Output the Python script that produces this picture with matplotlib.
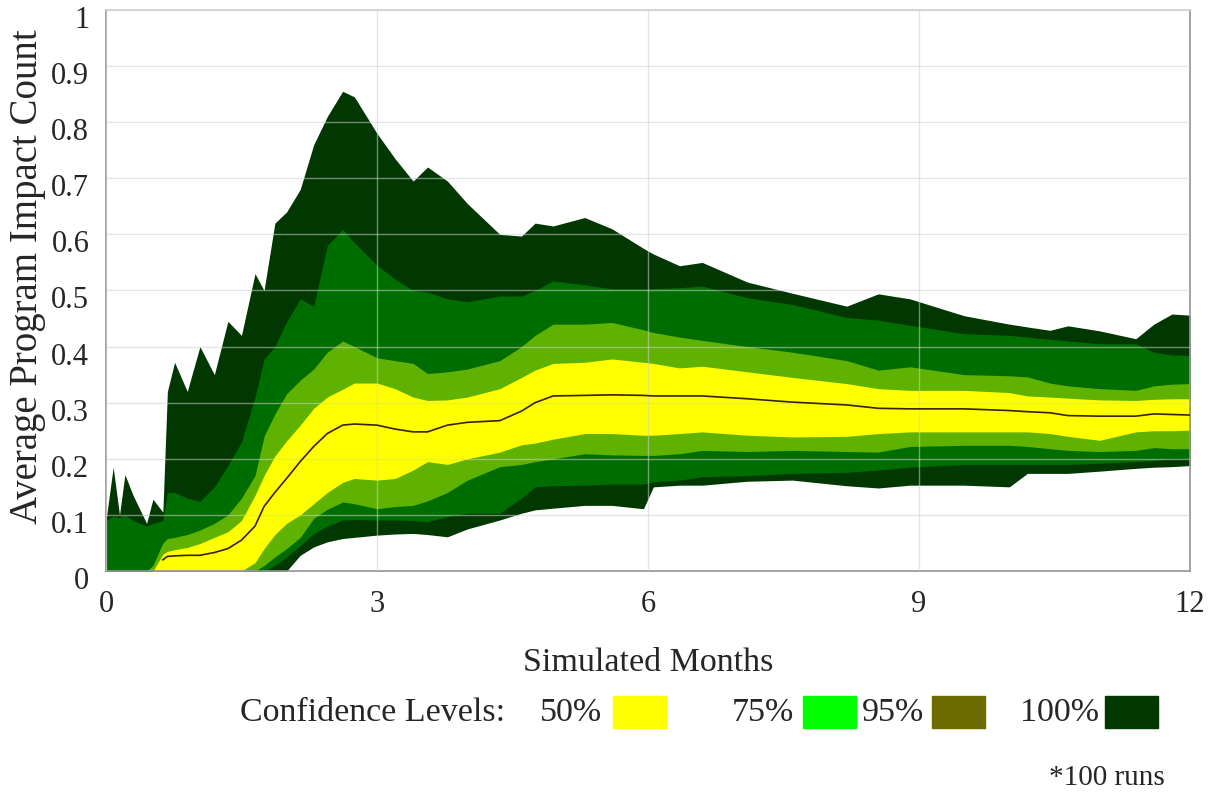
import numpy as np
import matplotlib
matplotlib.use("Agg")
import matplotlib.pyplot as plt
import matplotlib.transforms as mtransforms
from matplotlib.patches import Rectangle

plt.rcParams['font.family'] = ['Liberation Serif', 'DejaVu Serif']

# simulated months (x) and the confidence band edges
months = [0.0, 0.08, 0.15, 0.21, 0.3, 0.45, 0.52, 0.63, 0.68, 0.76, 0.9, 1.04, 1.2, 1.35,
          1.5, 1.65, 1.75, 1.87, 2.0, 2.15, 2.3, 2.45, 2.62, 2.75, 3.0, 3.2, 3.4, 3.56,
          3.78, 4.0, 4.36, 4.6, 4.75, 4.95, 5.3, 5.6, 5.95, 6.06, 6.35, 6.6, 7.1, 7.6,
          8.2, 8.55, 8.9, 9.5, 10.0, 10.2, 10.45, 10.65, 11.0, 11.4, 11.6, 11.8, 12.0]

p100_hi = [0.09, 0.185, 0.1, 0.172, 0.135, 0.085, 0.128, 0.105, 0.32, 0.372, 0.32, 0.40, 0.35, 0.445,
           0.42, 0.53, 0.50, 0.62, 0.64, 0.68, 0.76, 0.81, 0.855, 0.845, 0.78, 0.735, 0.695, 0.72,
           0.695, 0.655, 0.60, 0.597, 0.62, 0.615, 0.63, 0.61, 0.575, 0.565, 0.544, 0.55, 0.515, 0.495,
           0.472, 0.494, 0.485, 0.455, 0.44, 0.435, 0.429, 0.437, 0.428, 0.414, 0.44, 0.458, 0.456]
p95_hi = [0.09, 0.098, 0.095, 0.1, 0.09, 0.08, 0.085, 0.09, 0.14, 0.14, 0.13, 0.124, 0.15, 0.188,
          0.23, 0.31, 0.378, 0.40, 0.444, 0.485, 0.472, 0.58, 0.609, 0.585, 0.545, 0.52, 0.50, 0.497,
          0.485, 0.48, 0.49, 0.49, 0.50, 0.517, 0.51, 0.503, 0.503, 0.503, 0.505, 0.508, 0.487, 0.475,
          0.452, 0.447, 0.438, 0.423, 0.42, 0.417, 0.413, 0.41, 0.405, 0.405, 0.39, 0.385, 0.384]
p75_hi = [0, 0, 0, 0, 0, 0, 0.01, 0.05, 0.058, 0.06, 0.065, 0.073, 0.085, 0.10,
          0.13, 0.17, 0.24, 0.28, 0.316, 0.34, 0.36, 0.39, 0.41, 0.40, 0.38, 0.375, 0.37, 0.352,
          0.355, 0.36, 0.375, 0.40, 0.42, 0.44, 0.44, 0.443, 0.43, 0.425, 0.417, 0.411, 0.40, 0.39,
          0.375, 0.358, 0.364, 0.35, 0.348, 0.346, 0.335, 0.33, 0.325, 0.322, 0.33, 0.333, 0.334]
p50_hi = [0, 0, 0, 0, 0, 0, 0, 0.03, 0.035, 0.038, 0.042, 0.049, 0.06, 0.07,
          0.09, 0.135, 0.17, 0.205, 0.232, 0.26, 0.29, 0.31, 0.324, 0.335, 0.335, 0.325, 0.31, 0.304,
          0.305, 0.31, 0.325, 0.345, 0.358, 0.37, 0.372, 0.378, 0.372, 0.37, 0.362, 0.365, 0.355, 0.345,
          0.334, 0.325, 0.322, 0.322, 0.318, 0.312, 0.31, 0.308, 0.305, 0.304, 0.306, 0.307, 0.307]
median = [np.nan] * 7 + [0.02, 0.026, 0.027, 0.028, 0.028, 0.033, 0.04,
          0.055, 0.08, 0.115, 0.14, 0.165, 0.195, 0.222, 0.245, 0.26, 0.262, 0.26, 0.253, 0.248, 0.248,
          0.26, 0.265, 0.268, 0.285, 0.30, 0.312, 0.313, 0.314, 0.313, 0.312, 0.312, 0.312, 0.307, 0.301,
          0.296, 0.29, 0.289, 0.289, 0.286, 0.284, 0.282, 0.277, 0.276, 0.276, 0.28, 0.279, 0.278]
p50_lo = [0] * 15 + [0.015, 0.04, 0.065, 0.085, 0.10, 0.12, 0.14, 0.158, 0.165, 0.162, 0.165, 0.18, 0.195,
          0.19, 0.2, 0.212, 0.225, 0.228, 0.235, 0.245, 0.245, 0.242, 0.242, 0.245, 0.248, 0.242, 0.239,
          0.24, 0.245, 0.248, 0.248, 0.248, 0.248, 0.245, 0.24, 0.233, 0.248, 0.25, 0.25, 0.251]
p75_lo = [0] * 16 + [0.01, 0.025, 0.04, 0.06, 0.094, 0.11, 0.123, 0.12, 0.111, 0.115, 0.117, 0.125,
          0.14, 0.162, 0.186, 0.19, 0.195, 0.2, 0.209, 0.207, 0.206, 0.206, 0.209, 0.215, 0.213, 0.215,
          0.213, 0.212, 0.222, 0.224, 0.224, 0.222, 0.218, 0.215, 0.213, 0.215, 0.22, 0.218, 0.218]
p95_lo = [0] * 16 + [0.0, 0.01, 0.025, 0.045, 0.067, 0.08, 0.091, 0.092, 0.091, 0.091, 0.09, 0.088,
          0.097, 0.103, 0.103, 0.13, 0.15, 0.152, 0.153, 0.155, 0.155, 0.159, 0.162, 0.168, 0.17, 0.174,
          0.176, 0.18, 0.185, 0.19, 0.19, 0.19, 0.19, 0.19, 0.192, 0.195, 0.197, 0.2, 0.2]
p100_lo = [0] * 19 + [0.028, 0.043, 0.052, 0.058, 0.06, 0.064, 0.066, 0.067, 0.065,
           0.061, 0.075, 0.091, 0.103, 0.109, 0.112, 0.117, 0.117, 0.111, 0.15, 0.153, 0.153, 0.16, 0.162,
           0.152, 0.148, 0.153, 0.153, 0.15, 0.174, 0.174, 0.174, 0.178, 0.183, 0.185, 0.186, 0.188]

legend_labels = ['50%', '75%', '95%', '100%']

txt = '#262626'
fig = plt.figure(figsize=(12.22, 7.92), dpi=100)
ax = fig.add_axes([0.0867, 0.279, 0.8871, 0.7085])

ax.fill_between(months, p100_lo, p100_hi, color='#013801', lw=0)
ax.fill_between(months, p95_lo, p95_hi, color='#006d00', lw=0)
ax.fill_between(months, p75_lo, p75_hi, color='#5fb200', lw=0)
ax.fill_between(months, p50_lo, p50_hi, color='#ffff00', lw=0)
ax.plot(months, median, color='#3a2200', lw=1.2, zorder=3)

ax.set_xlim(0, 12)
ax.set_ylim(0, 1)
ax.set_xticks([0, 3, 6, 9, 12])
ax.set_yticks(np.arange(0, 1.01, 0.1))
ax.set_yticklabels(['0', '0.1', '0.2', '0.3', '0.4', '0.5', '0.6', '0.7', '0.8', '0.9', '1'])
ax.set_axisbelow(False)
ax.grid(True, color='#d0d0d0', lw=1.0, alpha=0.55)
ax.tick_params(length=0, labelsize=22, colors=txt)
ax.tick_params(axis='y', pad=12)
ax.tick_params(axis='x', pad=14)
# y tick labels sit a little below their gridlines in the original
shift = mtransforms.ScaledTranslation(0, -7 / 100, fig.dpi_scale_trans)
for lab in ax.get_yticklabels():
    lab.set_transform(lab.get_transform() + shift)
for s in ax.spines.values():
    s.set_color('#909090')
    s.set_linewidth(1.2)
ax.spines['top'].set_color('#d0d0d0')

ax.set_xlabel('Simulated Months', fontsize=24.5, color=txt, labelpad=20)
ax.set_ylabel('Average Program Impact Count', fontsize=28, color=txt)
ax.yaxis.set_label_coords(-0.055, 0.524)

# legend row drawn in figure pixels
W, H = 1222, 792
fig.text(240 / W, 1 - 713 / H, 'Confidence Levels:', fontsize=24.5, color=txt, va='center')
label_x = [540, 732, 862, 1020]
box_x = [613, 803, 932, 1105]
box_colors = ['#ffff00', '#00ff00', '#6b6b00', '#013801']
for lab, lx, bx, bc in zip(legend_labels, label_x, box_x, box_colors):
    fig.text(lx / W, 1 - 713 / H, lab, fontsize=24.5, color=txt, va='center')
    fig.patches.append(Rectangle((bx / W, 1 - 728 / H), 53 / W, 32 / H,
                                 transform=fig.transFigure, color=bc, figure=fig))

fig.text(1165 / W, 1 - 778 / H, '*100 runs', fontsize=21, color=txt, va='center', ha='right')

fig.savefig('out.png', dpi=100)
